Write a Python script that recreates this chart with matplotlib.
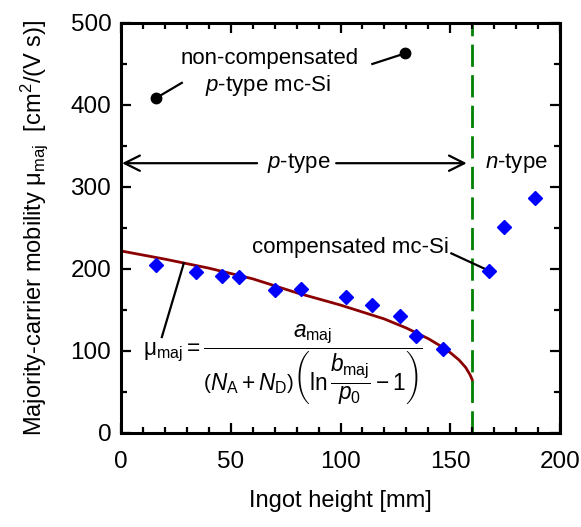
import matplotlib
matplotlib.use("Agg")
import matplotlib.pyplot as plt
from matplotlib.ticker import MultipleLocator

plt.rcParams['font.family'] = ['Liberation Sans', 'DejaVu Sans']
plt.rcParams['mathtext.fontset'] = 'custom'
plt.rcParams['mathtext.rm'] = 'Liberation Sans'
plt.rcParams['mathtext.it'] = 'Liberation Sans:italic'
plt.rcParams['mathtext.bf'] = 'Liberation Sans:bold'

# Data
comp_x = [16, 34, 46, 53.6, 70, 82, 102.5, 114.5, 127, 134.6, 146.6, 167.5, 174.5, 188.5]
comp_y = [205, 196, 191.5, 190.5, 174, 176, 166, 156, 143, 118, 102.5, 197, 251, 287]
noncomp_x = [16, 129.5]
noncomp_y = [408.5, 463]
model_x = [0, 20, 40, 60, 80, 100, 120, 130, 140, 145, 150, 154, 157, 159, 160]
model_y = [222, 212, 201, 188, 171, 156, 139, 128, 115, 107, 98, 89, 80, 71, 65]
boundary_x = 160

fig = plt.figure(figsize=(5.81, 5.27), dpi=100)
ax = fig.add_axes([0.2083, 0.1784, 0.7556, 0.778])

ax.axvline(boundary_x, color='#008000', lw=2.0, dashes=(8, 3), zorder=1)
ax.plot(model_x, model_y, color='#8B0000', lw=2.0, zorder=2)
ax.plot(comp_x, comp_y, linestyle='none', marker='D', ms=7.2, color='#0000FF', zorder=3)
ax.plot(noncomp_x, noncomp_y, linestyle='none', marker='o', ms=7.5, color='black', zorder=3)

ax.set_xlim(0, 200)
ax.set_ylim(0, 500)
ax.xaxis.set_major_locator(MultipleLocator(50))
ax.xaxis.set_minor_locator(MultipleLocator(10))
ax.yaxis.set_major_locator(MultipleLocator(100))
ax.yaxis.set_minor_locator(MultipleLocator(50))
ax.tick_params(which='both', direction='in', top=True, right=True, width=1.6,
               labelsize=17.5)
ax.tick_params(axis='x', pad=13)
ax.tick_params(axis='y', pad=7)
ax.tick_params(which='major', length=7)
ax.tick_params(which='minor', length=4.5)
for s in ax.spines.values():
    s.set_linewidth(2.2)

ax.set_xlabel('Ingot height [mm]', fontsize=17, labelpad=12)
ax.set_ylabel('Majority-carrier mobility \u03bc$_{\\rm maj}$  [cm$^2$/(V s)]',
              fontsize=17, labelpad=15)

# Annotations
fs = 16
ax.text(67.7, 457, 'non-compensated', fontsize=fs, ha='center', va='center')
ax.text(67, 424, r'$p$-type mc-Si', fontsize=fs, ha='center', va='center')
ax.plot([16, 27.7], [408.5, 427], color='black', lw=1.6)
ax.plot([114.5, 129.5], [450, 463], color='black', lw=1.6)

ax.text(81, 329, r'$p$-type', fontsize=fs, ha='center', va='center')
arrow = dict(arrowstyle='->,head_length=0.5,head_width=0.25', lw=1.6,
             color='black', mutation_scale=22, shrinkA=0, shrinkB=0)
ax.annotate('', xy=(0.5, 329), xytext=(62, 329), arrowprops=arrow)
ax.annotate('', xy=(157.5, 329), xytext=(98, 329), arrowprops=arrow)
ax.text(180, 329, r'$n$-type', fontsize=fs, ha='center', va='center')

ax.text(149.5, 226, 'compensated mc-Si', fontsize=fs, ha='right', va='center')
ax.plot([150.5, 167.5], [219, 198], color='black', lw=1.6)

ax.text(74, 83, '\u03bc' + r'$_{\rm maj} = \dfrac{a_{\rm maj}}{\left(N_{\rm A} + N_{\rm D}\right)\left(\ln\dfrac{b_{\rm maj}}{p_0} - 1\right)}$',
        fontsize=16.3, ha='center', va='center')
ax.plot([18.6, 28.6], [117, 207], color='black', lw=1.6)

fig.savefig('out.png', dpi=100)
